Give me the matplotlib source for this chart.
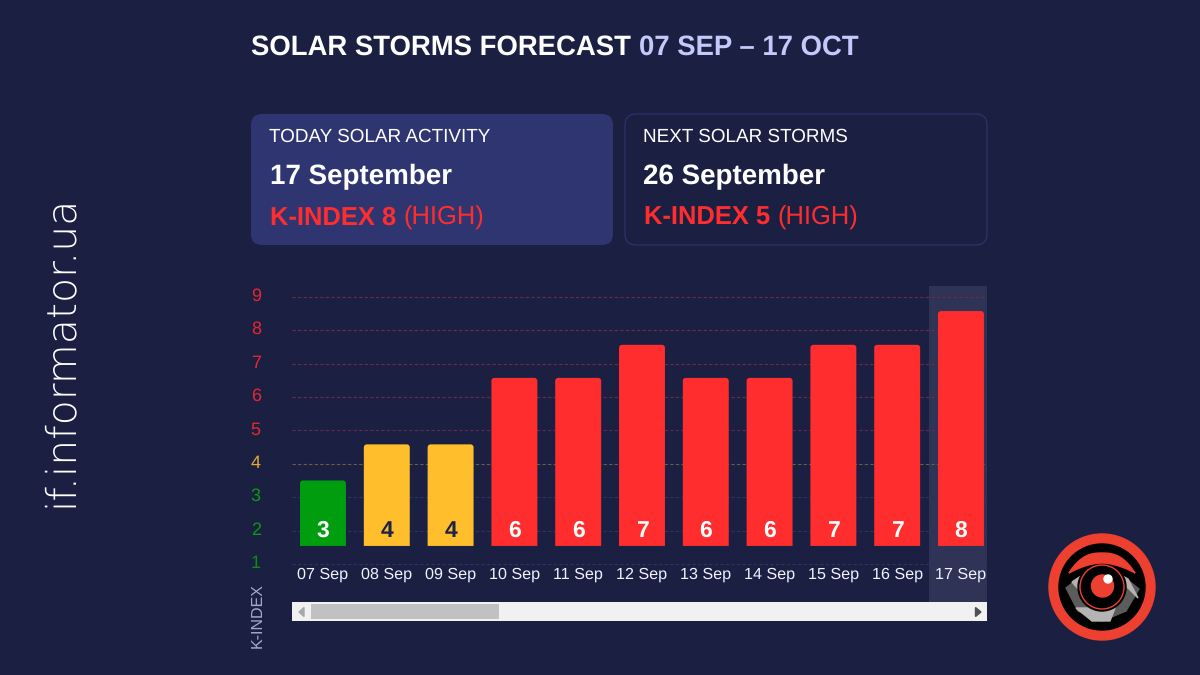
import matplotlib
matplotlib.use("Agg")
import matplotlib.pyplot as plt
import numpy as np
from matplotlib.patches import Circle, FancyBboxPatch, Polygon, Rectangle
from matplotlib.transforms import ScaledTranslation

plt.rcParams["font.family"] = ["Liberation Sans", "DejaVu Sans"]
plt.rcParams["text.hinting"] = "no_hinting"

W, H = 1200, 675
BG = "#1b2043"
RED = "#ff2d2d"
YELLOW = "#ffbe2c"
GREEN = "#009e0f"
NAVY = "#1f2347"
LOGO_RED = "#ee4030"

dates = ["07 Sep", "08 Sep", "09 Sep", "10 Sep", "11 Sep", "12 Sep",
         "13 Sep", "14 Sep", "15 Sep", "16 Sep", "17 Sep"]
k_index = [3, 4, 4, 6, 6, 7, 6, 6, 7, 7, 8]
bar_tops = [3.5, 4.58, 4.58, 6.57, 6.57, 7.56, 6.57, 6.57, 7.56, 7.56, 8.57]
bar_base = 1.54
levels = [1, 2, 3, 4, 5, 6, 7, 8, 9]
level_colors = ["#0a8f14", "#0a9a13", "#0a9a13", "#e8a92e", "#e8262f",
                "#e8262f", "#e8262f", "#e8262f", "#e8262f"]
grid_colors = ["#2c3464", "#2c3464", "#2c3464", "#6b5c4a", "#5e2c4c",
               "#6e2a42", "#6e2a42", "#762a40", "#6e2a42"]


def bar_color(k):
    if k <= 3:
        return GREEN
    if k == 4:
        return YELLOW
    return RED


def label_color(k):
    return NAVY if k == 4 else "white"


def text_run(ax, x, y, parts, size):
    # parts: (string, colour, weight), laid out left to right
    renderer = ax.figure.canvas.get_renderer()
    for string, color, weight in parts:
        t = ax.text(x, y, string.rstrip(), color=color, fontweight=weight, fontsize=size, va="baseline", ha="left")
        x += t.get_window_extent(renderer).width
        if string.endswith(" "):
            x += size * 0.278 * 100 / 72


def rounded_bar(ax, x, bottom, top, width, rx, ry, color):
    # square bottom, rounded top corners
    t = np.linspace(0, np.pi / 2, 8)
    left = x - width / 2
    right = x + width / 2
    xs = np.r_[left, left + rx - rx * np.cos(t), right - rx + rx * np.sin(t), right]
    ys = np.r_[bottom, top - ry + ry * np.sin(t), top - ry + ry * np.cos(t), bottom]
    ax.add_patch(Polygon(np.column_stack([xs, ys]), fc=color, ec="none", zorder=2))


def draw_logo(ax, cx, cy):
    ax.add_patch(Circle((cx, cy), 53, color=LOGO_RED))
    ax.add_patch(Circle((cx, cy), 43, color="black"))
    # eye
    ax.add_patch(Polygon([(cx - 36, cy + 1), (cx - 22, cy - 10), (cx, cy - 16), (cx + 22, cy - 10), (cx + 37, cy + 2),
                          (cx + 24, cy + 24), (cx, cy + 34), (cx - 24, cy + 24)], color="#5c5c5c", zorder=3))
    ax.add_patch(Polygon([(cx - 26, cy + 21), (cx + 13, cy + 21), (cx + 8, cy + 34), (cx - 10, cy + 34)],
                         color="#b4b4b4", zorder=4))
    ax.add_patch(Polygon([(cx + 17, cy - 13), (cx + 26, cy - 8), (cx + 36, cy + 11), (cx + 24, cy - 1)],
                         color="#b4b4b4", zorder=4))
    ax.add_patch(Polygon([(cx - 30, cy - 5), (cx - 21, cy - 11), (cx - 22, cy + 4)], color="#b4b4b4", zorder=4))
    # iris
    ax.add_patch(Circle((cx, cy), 24, color="black", zorder=5))
    ax.add_patch(Circle((cx, cy), 22, fill=False, ec=LOGO_RED, lw=1, zorder=6))
    ax.add_patch(Circle((cx + 0.5, cy - 1), 11, color=LOGO_RED, zorder=6))
    ax.add_patch(Circle((cx + 6, cy - 8), 4, color="white", zorder=7))
    # brow
    xs = np.linspace(-33, 33, 41)
    outer = -14 - 20 * (1 - np.abs(xs / 33) ** 2.6)
    inner = -14 - 10 * (1 - np.abs(xs / 33) ** 1.8)
    ax.add_patch(Polygon(np.column_stack([cx + np.r_[xs, xs[::-1]], cy + np.r_[outer, inner[::-1]]]),
                         color=LOGO_RED, zorder=7))


fig = plt.figure(figsize=(W / 100, H / 100), dpi=100, facecolor=BG)

# page layer in pixel coordinates
page = fig.add_axes([0, 0, 1, 1])
page.set_xlim(0, W)
page.set_ylim(H, 0)
page.axis("off")

text_run(page, 251, 55, [("SOLAR STORMS FORECAST ", "white", "bold"), ("07 SEP – 17 OCT", "#c3c9fb", "bold")], 19.85)

page.add_patch(FancyBboxPatch((260, 123), 344, 113, boxstyle="round,pad=9,rounding_size=11",
                              fc="#2f3570", ec="none"))
page.add_patch(FancyBboxPatch((634, 123), 344, 113, boxstyle="round,pad=9,rounding_size=11",
                              fc="none", ec="#2e3672", lw=0.75))

page.text(269, 142, "TODAY SOLAR ACTIVITY", color="white", fontsize=13.6)
page.text(270, 184, "17 September", color="white", fontsize=20, fontweight="bold")
text_run(page, 270, 225, [("K-INDEX 8 ", RED, "bold"), ("(HIGH)", RED, "normal")], 18.4)
page.text(643, 142, "NEXT SOLAR STORMS", color="white", fontsize=13.6)
page.text(643, 184, "26 September", color="white", fontsize=20, fontweight="bold")
text_run(page, 644, 225, [("K-INDEX 5 ", RED, "bold"), ("(HIGH)", RED, "normal")], 18.4)

page.text(60, 350.5, "if.informator.ua", color="white", fontsize=29.5, family="DejaVu Sans", fontweight="light",
          rotation=90, ha="center", va="center")
page.text(258, 616, "K-INDEX", color="#a4a9d0", fontsize=11.5, rotation=90, ha="center", va="center")

# scrollbar
page.add_patch(Rectangle((292, 602), 695, 19, fc="#f1f1f1", ec="none"))
page.add_patch(Rectangle((311, 604), 188, 15, fc="#c1c1c1", ec="none"))
page.add_patch(Polygon([(299, 612), (304, 607.5), (304, 616.5)], color="#a8a8a8"))
page.add_patch(Polygon([(981, 612), (975.5, 607.5), (975.5, 616.5)], color="#505050"))

draw_logo(page, 1102, 587)

# chart, same pixel box as the plot area
ax = fig.add_axes([292 / W, 1 - 602 / H, 695 / W, 316 / H])
ax.patch.set_alpha(0)
ax.set_xlim(-0.486, 10.408)
ax.set_ylim(-0.138, 9.32)
for spine in ax.spines.values():
    spine.set_visible(False)

ax.axvspan(9.498, 10.408, color="#2f3355", zorder=0, lw=0)

for level, color in zip(levels, grid_colors):
    ax.axhline(level, color=color, lw=0.8, dashes=(3, 2), zorder=1)

px_per_x = 63.8
px_per_y = 33.4
bar_width = 0.72
for i, (k, top) in enumerate(zip(k_index, bar_tops)):
    rounded_bar(ax, i, bar_base, top, bar_width, 3 / px_per_x, 3 / px_per_y, bar_color(k))
    ax.text(i, 2, str(k), color=label_color(k), fontsize=16.5, fontweight="bold",
            ha="center", va="center", zorder=3)

ax.set_yticks(levels)
ax.set_yticklabels([str(v) for v in levels])
ax.tick_params(axis="y", length=0, pad=22.5, labelsize=13)
up = ScaledTranslation(0, 2.5 / 100, fig.dpi_scale_trans)
for label, color in zip(ax.get_yticklabels(), level_colors):
    label.set_color(color)
    label.set_transform(label.get_transform() + up)

ax.set_xticks(range(len(dates)))
ax.set_xticklabels(dates)
ax.tick_params(axis="x", length=0, pad=-24.8, labelsize=11.6, labelcolor="#f0f2ff")

fig.savefig("out.png", dpi=100, facecolor=BG)
